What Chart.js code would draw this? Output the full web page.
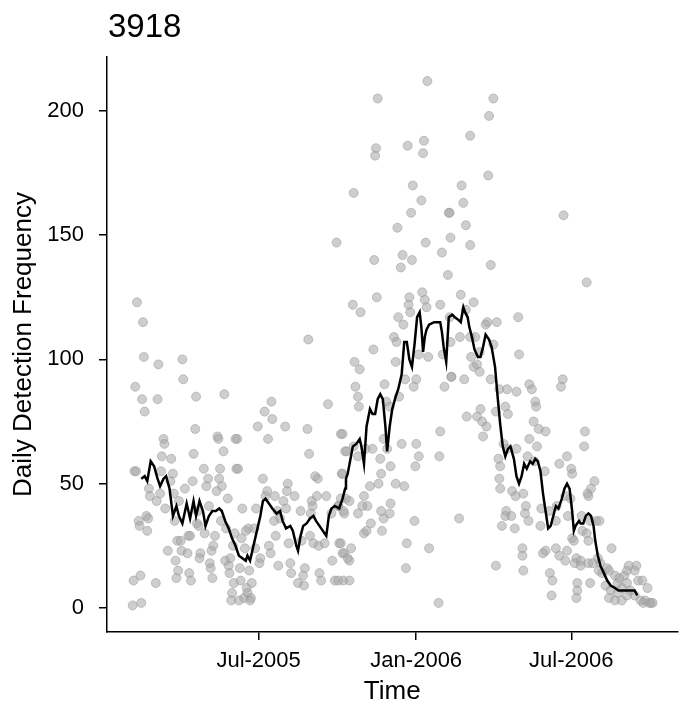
<!DOCTYPE html>
<html>
<head>
<meta charset="utf-8">
<title>3918</title>
<script src="https://cdn.jsdelivr.net/npm/chart.js@4.4.1/dist/chart.umd.min.js"></script>
<style>
  html, body { margin: 0; padding: 0; background: #fff; }
  #wrap { width: 683px; height: 708px; }
</style>
</head>
<body>
<div id="wrap"><canvas id="chart" width="683" height="708"></canvas></div>
<script>
// days counted from 1 Jan 2005 (day 0)
const chartTitle = '3918';
const xTickDays = [181, 365, 546];
const xTickLabels = ['Jul-2005', 'Jan-2006', 'Jul-2006'];
const yTicks = [0, 50, 100, 150, 200];

// daily counts (scatter)
const pointDays = [
  39,46,47,64,92,93,37,45,63,48,108,141,107,133,134,154,70,71,68,79,105,140,36,38,67,81,117,136,155,122,135,104,78,53,95,120,138,132,54,66,82,88,62,72,110,145,123,83,50,52,41,42,51,109,111,137,143,99,101,118,130,86,90,75,91,98,113,112,128,126,142,84,124,125,146,147,87,85,100,102,127,43,35,61,152,150,44,34,149,
  239,196,188,197,180,212,238,262,277,156,192,240,282,157,186,215,247,250,278,191,189,200,214,223,243,249,260,210,213,203,206,230,244,242,266,274,283,281,162,178,199,169,176,166,201,193,216,231,241,245,251,258,275,279,153,161,151,165,177,195,204,183,182,218,219,235,233,227,234,252,254,267,270,280,148,159,170,173,160,167,168,164,172,158,171,
  378,320,318,317,355,374,373,361,371,292,359,403,343,376,405,272,395,316,349,347,360,402,319,291,300,356,357,375,377,372,393,404,344,350,358,339,342,315,293,299,368,379,341,396,406,398,294,297,298,328,352,365,362,330,334,345,279,284,292,297,306,314,327,331,323,335,348,365,368,364,393,392,279,311,321,324,341,351,277,287,304,308,302,335,274,280,297,324,327,334,325,304,307,312,363,277,289,281,287,285,354,353,380,274,287,391,
  455,450,428,449,418,420,404,423,428,452,417,432,423,448,446,459,484,405,416,428,434,439,455,429,432,436,439,485,406,421,452,462,471,482,497,500,504,505,424,436,440,442,447,458,469,472,443,467,471,502,508,516,482,497,506,461,463,462,495,503,515,463,477,481,490,470,469,476,493,492,465,480,496,511,510,520,415,489,489,490,516,513,458,521,524,523,
  537,564,536,534,562,561,541,532,546,547,573,569,565,566,529,539,545,542,528,558,568,575,579,547,549,559,564,566,528,532,541,539,552,550,557,557,566,571,577,580,593,568,553,553,552,578,582,588,590,597,602,608,611,613,620,622,624,629,635,586,592,600,605,600,611,615,620,627,632,639,590,597,605,611,630,637,641
];
const pointValues = [
  123,115,101,98,100,92,89,84,84,79,85,86,72,69,68,68,68,66,61,60,62,63,55,55,55,54,56,56,56,52,52,51,51,48,48,49,49,47,45,46,46,43,43,40,39,44,41,35,37,36,35,33,31,34,33,35,32,29,29,30,29,27,27,23,23,22,22,20,25,23,19,19,18,16,17,14,15,12,14,11,12,13,11,10,10,6,2,1,3,
  108,83,79,76,73,73,72,82,70,68,68,62,63,56,52,50,53,52,54,47,45,45,47,45,43,45,45,43,40,39,36,39,41,38,38,41,44,38,40,40,35,32,32,31,29,25,26,27,29,26,25,26,26,22,30,28,25,24,24,22,17,20,18,18,14,16,13,10,9,14,11,19,11,11,20,16,15,10,11,8,6,4,4,3,3,
  212,205,185,182,186,188,183,170,164,167,159,159,153,147,149,147,143,140,142,137,140,134,125,122,119,122,125,124,121,127,122,117,117,114,119,109,107,104,99,96,102,101,99,102,93,89,89,85,81,90,92,92,89,83,81,85,70,63,65,61,64,64,68,64,60,57,66,66,61,57,71,61,54,49,50,54,50,49,44,43,45,41,41,42,41,39,38,39,36,38,31,30,31,34,35,26,24,22,19,20,26,16,24,11,11,2,
  205,198,190,174,170,163,159,154,146,138,126,123,120,115,114,115,117,107,109,109,109,103,106,101,97,98,95,102,93,92,92,88,88,87,90,88,83,81,77,77,80,75,73,79,81,78,69,66,64,75,72,71,64,68,65,60,57,52,61,59,55,48,47,45,46,39,37,37,41,38,33,32,35,40,33,39,36,24,21,15,23,22,17,14,11,5,
  158,131,92,89,71,65,61,58,56,54,51,48,46,45,41,45,44,37,35,37,35,35,35,28,27,31,30,27,24,21,23,19,20,18,19,17,18,18,20,18,24,10,10,7,4,15,14,16,15,13,12,13,15,17,15,17,11,11,8,9,7,6,8,10,10,7,5,3,3,2,4,3,3,5,2,2,2
];

// smoothed trend line
const lineDays = [
  44,48,51,55,59,63,66,70,73,77,81,85,88,92,97,101,105,108,112,116,119,123,127,131,135,138,142,146,150,154,158,162,166,
  168,171,175,179,183,186,189,193,197,202,206,209,213,218,221,225,227,230,233,237,241,245,248,252,256,260,263,266,270,275,279,282,283,285,
  291,295,299,301,304,307,311,314,317,320,323,326,329,331,334,337,341,344,348,351,354,357,360,363,
  366,369,371,373,375,377,380,386,393,395,397,400,403,407,410,414,417,420,422,425,427,430,433,437,440,443,446,450,453,457,460,463,466,469,472,475,
  479,482,485,488,491,494,498,501,504,507,510,513,516,519,522,525,528,531,535,538,541,544,547,549,551,
  555,557,560,563,566,569,572,574,577,580,584,588,592,597,601,605,610,614,617,620,623
];
const lineValues = [
  52,53,51,59,57,52,49,52,53,48,37,41,37,34,42,36,43,37,43,39,33,37,39,39,40,39,35,32,28,25,21,20,19,
  21,19,25,31,37,43,44,42,40,38,39,35,32,33,31,25,23,29,33,34,36,37,35,33,31,29,37,40,41,40,44,48,52,54,
  65,66,68,65,58,73,80,78,78,84,86,84,73,63,73,80,85,88,94,107,107,100,97,106,
  117,119,113,103,109,112,114,115,115,111,105,99,117,118,117,116,115,121,119,117,113,109,104,101,101,105,110,108,105,97,85,74,65,61,64,65,
  60,53,50,53,58,56,59,58,60,59,55,46,39,32,33,37,41,40,44,48,50,48,39,31,33,
  35,34,34,37,38,37,33,27,21,17,14,11,9,8,7,7,7,7,7,7,5
];

const scatterData = pointDays.map((d, i) => ({x: d, y: pointValues[i]}));
const trendData = lineDays.map((d, i) => ({x: d, y: lineValues[i]}));

const FONT = '"Liberation Sans", Arial, sans-serif';

const titlePlugin = {
  id: 'leftTitle',
  afterDraw(chart){
    const c = chart.ctx;
    c.save();
    c.fillStyle = '#000';
    c.font = '33px ' + FONT;
    c.textAlign = 'left';
    c.textBaseline = 'alphabetic';
    c.fillText(chartTitle, chart.chartArea.left + 1, 37);
    c.restore();
  }
};

const ctx = document.getElementById('chart').getContext('2d');
new Chart(ctx, {
  type: 'scatter',
  data: {
    datasets: [
      {
        type: 'line',
        label: 'trend',
        data: trendData,
        borderColor: '#000',
        borderWidth: 2.5,
        pointRadius: 0,
        tension: 0,
        fill: false,
        order: 0
      },
      {
        label: 'daily',
        data: scatterData,
        backgroundColor: 'rgba(165,165,165,0.55)',
        borderColor: 'rgba(150,150,150,0.5)',
        borderWidth: 1,
        pointRadius: 4.5,
        order: 1
      }
    ]
  },
  options: {
    responsive: false,
    animation: false,
    devicePixelRatio: 1,
    layout: {padding: {top: 57, right: 0, left: 0, bottom: 0}},
    plugins: {legend: {display: false}, tooltip: {enabled: false}},
    scales: {
      x: {
        type: 'linear',
        min: 4,
        max: 670,
        afterFit: s => { s.height = 76; },
        afterBuildTicks: s => { s.ticks = xTickDays.map(v => ({value: v})); },
        ticks: {
          color: '#000',
          font: {family: FONT, size: 22},
          padding: 8,
          maxRotation: 0,
          autoSkip: false,
          callback: v => xTickLabels[xTickDays.indexOf(v)]
        },
        grid: {drawOnChartArea: false, drawTicks: true, tickLength: 8, color: '#000', lineWidth: 1.5},
        border: {display: true, color: '#000', width: 1.5},
        title: {display: true, text: 'Time', color: '#000', font: {family: FONT, size: 26}, padding: {top: 0, bottom: 1}}
      },
      y: {
        type: 'linear',
        min: -9.7,
        max: 221.7,
        afterFit: s => { s.width = 107; },
        afterBuildTicks: s => { s.ticks = yTicks.map(v => ({value: v})); },
        ticks: {
          color: '#000',
          font: {family: FONT, size: 22},
          padding: 15
        },
        grid: {drawOnChartArea: false, drawTicks: true, tickLength: 8, color: '#000', lineWidth: 1.5},
        border: {display: true, color: '#000', width: 1.5},
        title: {display: true, text: 'Daily Detection Frequency', color: '#000', font: {family: FONT, size: 26}, padding: {top: 8, bottom: 0}}
      }
    }
  },
  plugins: [titlePlugin]
});
</script>
</body>
</html>
